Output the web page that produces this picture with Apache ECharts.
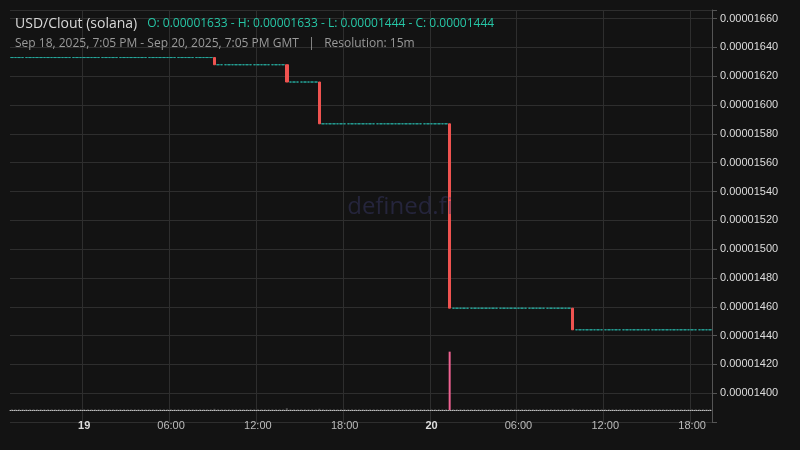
<!DOCTYPE html>
<html><head><meta charset="utf-8">
<script src="https://cdn.jsdelivr.net/npm/echarts@6/dist/echarts.min.js"></script>
<style>html,body{margin:0;background:#131313}#c{width:800px;height:450px}</style>
</head><body><div id="c"></div>
<script>
// Price levels and the times (15m candles) when each level begins
const levelStarts = ["2025-09-18 19:00","2025-09-19 09:00","2025-09-19 14:00","2025-09-19 16:15","2025-09-20 01:15","2025-09-20 09:45"];
const levels = [0.00001633,0.00001628,0.00001616,0.00001587,0.00001459,0.00001444];
// Volume spikes (other candles have tiny volume)
const volSpikeTimes = ["2025-09-19 09:00","2025-09-19 14:00","2025-09-19 16:15","2025-09-20 01:15","2025-09-20 09:45"];
const volSpikeValues = [2, 3, 2, 100, 2];
const baseVolume = 1;
const lastPrice = 0.00001444;
const yTickLabels = ["0.00001400","0.00001420","0.00001440","0.00001460","0.00001480","0.00001500","0.00001520","0.00001540","0.00001560","0.00001580","0.00001600","0.00001620","0.00001640","0.00001660"];

function pad(n){return (n<10?'0':'')+n;}
function key(d){return d.getUTCFullYear()+'-'+pad(d.getUTCMonth()+1)+'-'+pad(d.getUTCDate())+' '+pad(d.getUTCHours())+':'+pad(d.getUTCMinutes());}
const start = Date.UTC(2025,8,18,19,0), end = Date.UTC(2025,8,20,19,15);
const cats=[], candles=[], vols=[];
let lvl=0, prev=levels[0];
for(let t=start;t<=end;t+=900000){
  const k=key(new Date(t)); cats.push(k);
  let li=levelStarts.indexOf(k); if(li>=0) lvl=li;
  const c=levels[lvl], o=prev;
  candles.push([o,c,Math.min(o,c),Math.max(o,c)]);
  prev=c;
  const vi=volSpikeTimes.indexOf(k);
  vols.push({value: vi>=0?volSpikeValues[vi]:baseVolume, itemStyle:{color: vi>=0&&volSpikeValues[vi]>10?'#f06292':'#555'}});
}
function isMajor(i){const h=+cats[i].slice(11,13), m=+cats[i].slice(14,16);return m===0&&h%6===0;}
const chart=echarts.init(document.getElementById('c'));
chart.setOption({
  backgroundColor:'#131313',
  animation:false,
  title:[
    {left:10,top:10,text:'{a|USD/Clout (solana)}  {b|O: 0.00001633 - H: 0.00001633 - L: 0.00001444 - C: 0.00001444}',
     textStyle:{rich:{a:{color:'#d8d8d8',fontSize:14,fontWeight:'normal',fontFamily:'Open Sans'},b:{color:'#26c6a6',fontSize:12,fontWeight:'normal',fontFamily:'Open Sans'}}}},
    {left:10,top:33,text:'Sep 18, 2025, 7:05 PM - Sep 20, 2025, 7:05 PM GMT   |   Resolution: 15m',
     textStyle:{color:'#9a9a9a',fontSize:12,fontWeight:'normal',fontFamily:'Open Sans'}},
    {left:'center',top:190,text:'defined.fi',textStyle:{color:'rgba(60,60,110,0.45)',fontSize:24,fontWeight:'normal',fontFamily:'Open Sans'}}
  ],
  grid:[{left:10,right:88,top:10,bottom:28},{left:10,right:88,top:340,bottom:40}],
  xAxis:[
    {type:'category',data:cats,gridIndex:0,boundaryGap:true,axisLine:{show:false},axisTick:{show:false},axisLabel:{show:false},
     splitLine:{show:true,interval:isMajor,lineStyle:{color:'#2e2e2e'}}},
    {type:'category',data:cats,gridIndex:1,boundaryGap:true,
     axisLine:{show:true,lineStyle:{color:'#bbb',type:'dotted'}},axisTick:{show:false},
     axisLabel:{interval:isMajor,color:'#bbb',fontSize:11,margin:10,
       formatter:v=>{const h=v.slice(11,16);return h==='00:00'?'{d|'+(+v.slice(8,10))+'}':h;},
       rich:{d:{fontWeight:'bold',color:'#ddd',fontSize:11}}}}
  ],
  yAxis:[
    {type:'value',gridIndex:0,position:'right',min:0.0000138,max:0.00001666,interval:0.0000002,
     axisLine:{show:true,lineStyle:{color:'#555'}},axisTick:{show:true,lineStyle:{color:'#555'}},
     splitLine:{lineStyle:{color:'#2e2e2e'}},
     axisLabel:{color:'#ddd',fontSize:11,margin:8,formatter:v=>{const s=v.toFixed(8);return yTickLabels.indexOf(s)>=0?s:'';}}},
    {type:'value',gridIndex:1,min:0,max:120,show:false}
  ],
  series:[
    {type:'candlestick',xAxisIndex:0,yAxisIndex:0,data:candles,barWidth:3,
     itemStyle:{color:'#26a69a',color0:'#ef5350',borderColor:'#26a69a',borderColor0:'#ef5350',borderWidth:1}},
    {type:'line',xAxisIndex:0,yAxisIndex:0,data:[],
     markLine:{symbol:['none','none'],silent:true,animation:false,data:[{yAxis:lastPrice}],
       lineStyle:{color:'#cccccc',type:'dotted',width:1},
       label:{show:true,position:'end',formatter:lastPrice.toFixed(8),color:'#fff',backgroundColor:'#00b386',padding:[4,6],fontSize:11,distance:2}}},
    {type:'bar',xAxisIndex:1,yAxisIndex:1,data:vols,barWidth:2}
  ]
});
</script></body></html>
